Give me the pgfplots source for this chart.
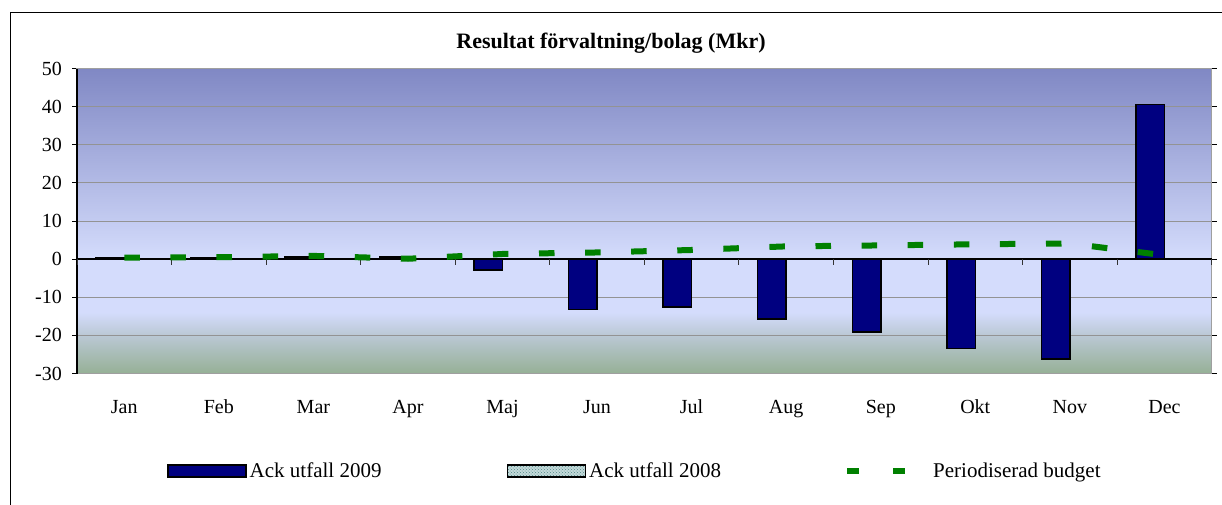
\documentclass[border=0pt]{standalone}
\usepackage{pgfplots}
\pgfplotsset{compat=1.18}
\usepackage{fontspec}
\setmainfont{Liberation Serif}
\usetikzlibrary{patterns}
\definecolor{navybar}{RGB}{0,0,128}
\definecolor{budgetgreen}{RGB}{0,128,0}
\definecolor{bgA}{RGB}{150,176,150}
\definecolor{bgB}{RGB}{186,200,212}
\definecolor{bgC}{RGB}{212,220,252}
\definecolor{bgD}{RGB}{128,136,196}
\definecolor{pat}{RGB}{196,218,218}
\definecolor{patdot}{RGB}{80,135,135}
\pgfdeclareverticalshading{plotbg}{100bp}{color(0bp)=(bgA); color(25bp)=(bgA); color(31.25bp)=(bgB); color(35bp)=(bgC); color(43.75bp)=(bgC); color(75bp)=(bgD); color(100bp)=(bgD)}
\begin{document}
\begin{tikzpicture}
\useasboundingbox (0,0) rectangle (1222pt,-504pt);
\fill[white] (0,0) rectangle (1222pt,-504pt);
\draw[line width=1pt] (10pt,-520pt) -- (10pt,-12.7pt) -- (1240pt,-12.7pt);
\node[font=\bfseries\fontsize{22}{26}\selectfont] at (611pt,-43pt) {Resultat förvaltning/bolag (Mkr)};
\begin{axis}[
  at={(77pt,-373.5pt)}, anchor=south west,
  scale only axis, width=1134.7pt, height=305pt,
  xmin=-0.5, xmax=11.5, ymin=-30, ymax=50,
  ytick={-30,-20,...,50}, yticklabels={-30,-20,-10,0,10,20,30,40,50},
  xtick={0,...,11}, xticklabels={Jan,Feb,Mar,Apr,Maj,Jun,Jul,Aug,Sep,Okt,Nov,Dec},
  major x tick style={draw=none},
  ymajorgrids, grid style={gray!85, line width=0.8pt},
  axis line style={gray!75, line width=1.2pt},
  y tick style={black, line width=0.8pt}, tick align=outside, major tick length=5pt,
  axis background/.style={shading=plotbg},
  tick label style={font=\fontsize{20}{24}\selectfont},
  xticklabel style={anchor=base, inner sep=0pt, yshift=-35pt},
  yticklabel style={anchor=east, inner sep=0pt, xshift=-10pt},
  clip=false,
  legend style={at={(0.0767,-0.3197)}, anchor=west, draw=none, fill=none,
    legend columns=3, font=\fontsize{21}{25}\selectfont,
    /tikz/every odd column/.append style={column sep=3pt},
    nodes={inner sep=0pt}},
]
\draw[black, line width=1.2pt] (axis cs:-0.5,-30) -- (axis cs:-0.5,50);
\draw[black, line width=1.3pt] (axis cs:-0.5,0) -- (axis cs:11.5,0);
\pgfplotsinvokeforeach{-0.5,0.5,1.5,2.5,3.5,4.5,5.5,6.5,7.5,8.5,9.5,10.5,11.5}{
  \draw[black!80, line width=1pt] (axis cs:#1,0) -- ++(0pt,-6pt);
}
\addplot[ybar, bar width=28.5pt, bar shift=-14.25pt, fill=navybar, draw=black, line width=1.5pt, forget plot]
 coordinates {(0,0.4) (1,0.4) (2,0.5) (3,0.5) (4,-2.8) (5,-13.2) (6,-12.6) (7,-15.7) (8,-19.1) (9,-23.4) (10,-26.2) (11,40.6)};
\addplot[budgetgreen, line width=6pt, dash pattern=on 15.5pt off 30.6pt, line cap=butt, forget plot]
 coordinates {(0,0.4) (1,0.5) (2,0.85) (3,0.1) (4,1.35) (5,1.75) (6,2.4) (7,3.35) (8,3.6) (9,3.9) (10,4.1) (11,1.0)};
\addlegendimage{legend image code/.code={\draw[fill=navybar, draw=black, line width=1.5pt] (0pt,-6pt) rectangle (78pt,6pt);}}
\addlegendentry{\makebox[257pt][l]{Ack utfall 2009}}
\addlegendimage{legend image code/.code={\fill[pat] (0pt,-6pt) rectangle (78pt,6pt); \fill[pattern=crosshatch dots, pattern color=patdot] (0pt,-6pt) rectangle (78pt,6pt); \draw[black, line width=1.5pt] (0pt,-6pt) rectangle (78pt,6pt);}}
\addlegendentry{\makebox[255pt][l]{Ack utfall 2008}}
\addlegendimage{legend image code/.code={\draw[budgetgreen, line width=6pt, dash pattern=on 12pt off 34pt] (0pt,0pt) -- (60pt,0pt); \path[draw=none, fill=none] (0pt,-6pt) -- (83pt,6pt);}}
\addlegendentry{Periodiserad budget}
\end{axis}
\end{tikzpicture}
\end{document}
